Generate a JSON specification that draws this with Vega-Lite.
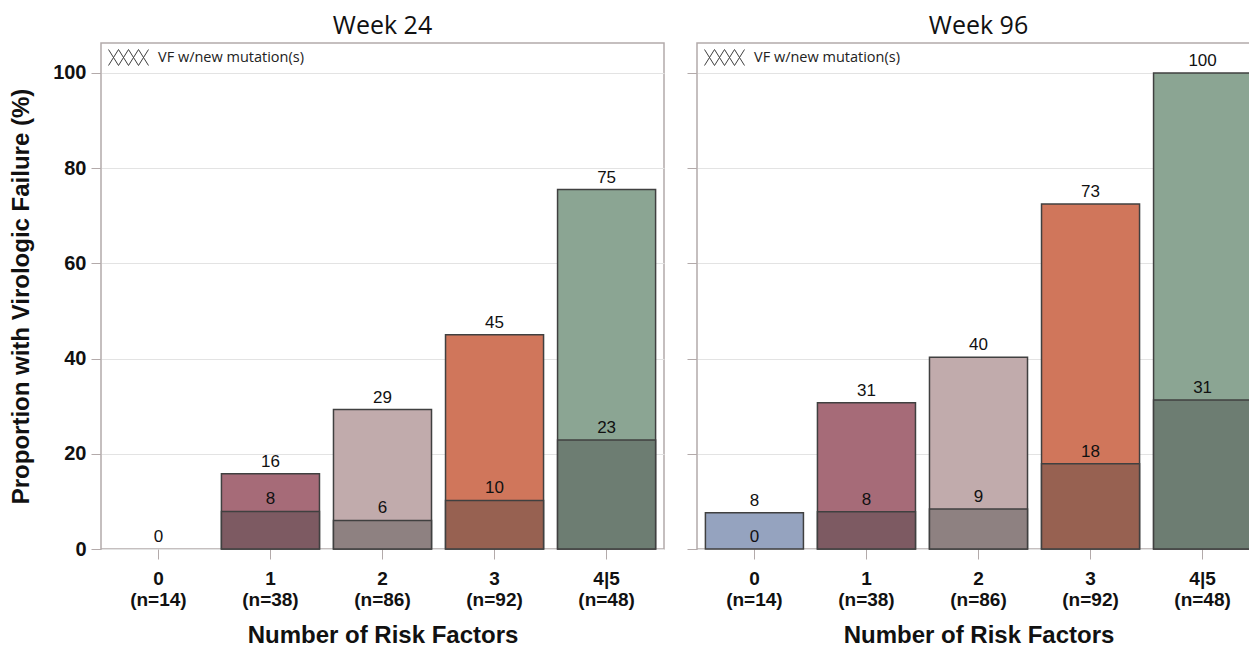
{
  "$schema": "https://vega.github.io/schema/vega-lite/v6.json",
  "padding": {"left": 8, "top": 13, "right": 0, "bottom": 0},
  "config": {
    "view": {"stroke": "#b3aaaa", "strokeWidth": 1.5},
    "font": "Liberation Sans",
    "title": {"font": "Open Sans", "fontSize": 25, "fontWeight": "normal", "color": "#111111", "offset": -2},
    "axis": {
      "labelFont": "Liberation Sans", "labelFontWeight": "bold", "labelColor": "#111111",
      "titleFont": "Liberation Sans", "titleFontWeight": "bold", "titleFontSize": 24, "titleColor": "#111111",
      "tickColor": "#b3aaaa", "tickSize": 10, "domain": false, "gridColor": "#e3e3e3"
    }
  },
  "datasets": {
    "w24": [
      {"rf": "0 (n=14)", "total": 0, "mut": 0, "totalLabel": "0", "mutLabel": null},
      {"rf": "1 (n=38)", "total": 15.8, "mut": 7.9, "totalLabel": "16", "mutLabel": "8"},
      {"rf": "2 (n=86)", "total": 29.3, "mut": 6.0, "totalLabel": "29", "mutLabel": "6"},
      {"rf": "3 (n=92)", "total": 45.0, "mut": 10.2, "totalLabel": "45", "mutLabel": "10"},
      {"rf": "4|5 (n=48)", "total": 75.5, "mut": 22.9, "totalLabel": "75", "mutLabel": "23"}
    ],
    "w96": [
      {"rf": "0 (n=14)", "total": 7.6, "mut": 0, "totalLabel": "8", "mutLabel": "0"},
      {"rf": "1 (n=38)", "total": 30.7, "mut": 7.8, "totalLabel": "31", "mutLabel": "8"},
      {"rf": "2 (n=86)", "total": 40.3, "mut": 8.4, "totalLabel": "40", "mutLabel": "9"},
      {"rf": "3 (n=92)", "total": 72.5, "mut": 17.9, "totalLabel": "73", "mutLabel": "18"},
      {"rf": "4|5 (n=48)", "total": 100, "mut": 31.3, "totalLabel": "100", "mutLabel": "31"}
    ]
  },
  "spacing": 20,
  "resolve": {"scale": {"stroke": "independent"}, "legend": {"stroke": "independent"}},
  "hconcat": [
    {
      "title": "Week 24",
      "width": 563,
      "height": 506,
      "data": {"name": "w24"},
      "encoding": {
        "x": {"field": "rf", "type": "nominal",
          "scale": {"domain": ["0 (n=14)", "1 (n=38)", "2 (n=86)", "3 (n=92)", "4|5 (n=48)"], "paddingInner": 0.125, "paddingOuter": 0.075},
          "axis": {"labelAngle": 0, "labelFontSize": 19, "labelLineHeight": 21, "labelPadding": 10,
            "labelExpr": "split(datum.label, ' ')", "title": "Number of Risk Factors", "titlePadding": 14, "grid": false}}
      },
      "resolve": {"scale": {"fill": "independent"}},
      "layer": [
        {
          "transform": [{"filter": "datum.total > 0"}],
          "mark": {"type": "bar", "stroke": "#404040", "strokeWidth": 1.5},
          "encoding": {
            "y": {"field": "total", "type": "quantitative",
              "scale": {"domain": [0, 106.3], "nice": false, "zero": true},
              "axis": {"values": [0, 20, 40, 60, 80, 100], "labelFontSize": 20, "labelPadding": 5,
                "title": "Proportion with Virologic Failure (%)", "titlePadding": 19, "grid": true}},
            "fill": {"field": "rf", "type": "nominal", "legend": null,
              "scale": {"domain": ["0 (n=14)", "1 (n=38)", "2 (n=86)", "3 (n=92)", "4|5 (n=48)"],
                "range": ["#95a3bf", "#a66b78", "#c1abac", "#d0765b", "#8ba593"]}}
          }
        },
        {
          "transform": [{"filter": "datum.mut > 0"}],
          "mark": {"type": "bar", "strokeWidth": 1.5},
          "encoding": {
            "y": {"field": "mut", "type": "quantitative"},
            "fill": {"field": "rf", "type": "nominal", "legend": null,
              "scale": {"domain": ["0 (n=14)", "1 (n=38)", "2 (n=86)", "3 (n=92)", "4|5 (n=48)"],
                "range": ["#737c8d", "#7d5a62", "#8e8181", "#976151", "#6d7d72"]}},
            "stroke": {"datum": "VF w/new mutation(s)", "type": "nominal",
              "scale": {"range": ["#404040"]},
              "legend": {"orient": "none", "legendX": 7, "legendY": -6, "title": null,
                "symbolType": "M-1,-0.4L-0.5,0.4M-1,0.4L-0.5,-0.4M-0.5,-0.4L0,0.4M-0.5,0.4L0,-0.4M0,-0.4L0.5,0.4M0,0.4L0.5,-0.4M0.5,-0.4L1,0.4M0.5,0.4L1,-0.4",
                "symbolSize": 1600, "symbolStrokeWidth": 1, "symbolFillColor": "transparent", "symbolStrokeColor": "#404040",
                "labelFont": "Open Sans", "labelFontSize": 14.5, "labelColor": "#222222", "labelOffset": 9, "padding": 0,
                "encode": {"symbols": {"update": {"fill": {"value": "transparent"}, "stroke": {"value": "#404040"}}}}}}
          }
        },
        {
          "mark": {"type": "text", "baseline": "bottom", "dy": -3, "fontSize": 17, "font": "Liberation Sans", "color": "#111111"},
          "encoding": {"y": {"field": "total", "type": "quantitative"}, "text": {"field": "totalLabel"}}
        },
        {
          "transform": [{"filter": "datum.mutLabel != null"}],
          "mark": {"type": "text", "baseline": "bottom", "dy": -3, "fontSize": 17, "font": "Liberation Sans", "color": "#111111"},
          "encoding": {"y": {"field": "mut", "type": "quantitative"}, "text": {"field": "mutLabel"}}
        }
      ]
    },
    {
      "title": "Week 96",
      "width": 563,
      "height": 506,
      "data": {"name": "w96"},
      "encoding": {
        "x": {"field": "rf", "type": "nominal",
          "scale": {"domain": ["0 (n=14)", "1 (n=38)", "2 (n=86)", "3 (n=92)", "4|5 (n=48)"], "paddingInner": 0.125, "paddingOuter": 0.075},
          "axis": {"labelAngle": 0, "labelFontSize": 19, "labelLineHeight": 21, "labelPadding": 10,
            "labelExpr": "split(datum.label, ' ')", "title": "Number of Risk Factors", "titlePadding": 14, "grid": false}}
      },
      "resolve": {"scale": {"fill": "independent"}},
      "layer": [
        {
          "transform": [{"filter": "datum.total > 0"}],
          "mark": {"type": "bar", "stroke": "#404040", "strokeWidth": 1.5},
          "encoding": {
            "y": {"field": "total", "type": "quantitative",
              "scale": {"domain": [0, 106.3], "nice": false, "zero": true},
              "axis": {"values": [0, 20, 40, 60, 80, 100], "labels": false, "title": null, "grid": true}},
            "fill": {"field": "rf", "type": "nominal", "legend": null,
              "scale": {"domain": ["0 (n=14)", "1 (n=38)", "2 (n=86)", "3 (n=92)", "4|5 (n=48)"],
                "range": ["#95a3bf", "#a66b78", "#c1abac", "#d0765b", "#8ba593"]}}
          }
        },
        {
          "transform": [{"filter": "datum.mut > 0"}],
          "mark": {"type": "bar", "strokeWidth": 1.5},
          "encoding": {
            "y": {"field": "mut", "type": "quantitative"},
            "fill": {"field": "rf", "type": "nominal", "legend": null,
              "scale": {"domain": ["0 (n=14)", "1 (n=38)", "2 (n=86)", "3 (n=92)", "4|5 (n=48)"],
                "range": ["#737c8d", "#7d5a62", "#8e8181", "#976151", "#6d7d72"]}},
            "stroke": {"datum": "VF w/new mutation(s)", "type": "nominal",
              "scale": {"range": ["#404040"]},
              "legend": {"orient": "none", "legendX": 7, "legendY": -6, "title": null,
                "symbolType": "M-1,-0.4L-0.5,0.4M-1,0.4L-0.5,-0.4M-0.5,-0.4L0,0.4M-0.5,0.4L0,-0.4M0,-0.4L0.5,0.4M0,0.4L0.5,-0.4M0.5,-0.4L1,0.4M0.5,0.4L1,-0.4",
                "symbolSize": 1600, "symbolStrokeWidth": 1, "symbolFillColor": "transparent", "symbolStrokeColor": "#404040",
                "labelFont": "Open Sans", "labelFontSize": 14.5, "labelColor": "#222222", "labelOffset": 9, "padding": 0,
                "encode": {"symbols": {"update": {"fill": {"value": "transparent"}, "stroke": {"value": "#404040"}}}}}}
          }
        },
        {
          "mark": {"type": "text", "baseline": "bottom", "dy": -3, "fontSize": 17, "font": "Liberation Sans", "color": "#111111"},
          "encoding": {"y": {"field": "total", "type": "quantitative"}, "text": {"field": "totalLabel"}}
        },
        {
          "transform": [{"filter": "datum.mutLabel != null"}],
          "mark": {"type": "text", "baseline": "bottom", "dy": -3, "fontSize": 17, "font": "Liberation Sans", "color": "#111111"},
          "encoding": {"y": {"field": "mut", "type": "quantitative"}, "text": {"field": "mutLabel"}}
        }
      ]
    }
  ]
}
